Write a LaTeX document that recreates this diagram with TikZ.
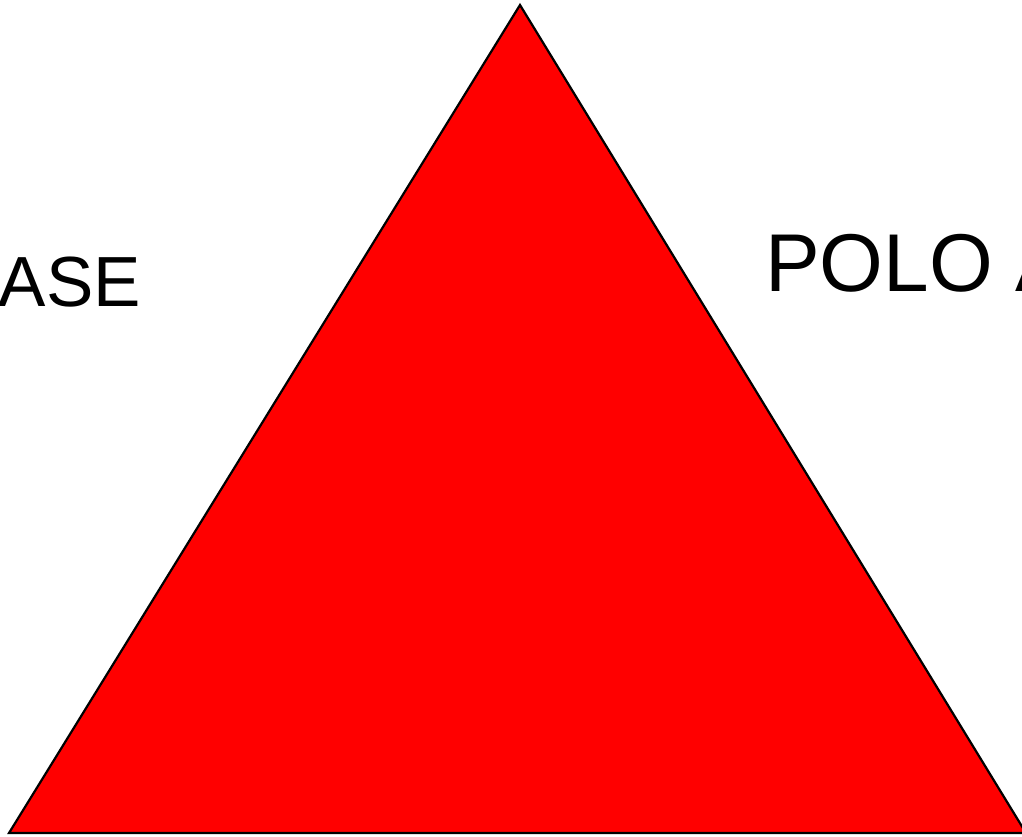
\documentclass[tikz,border=0pt]{standalone}
\usepackage{fontspec}
\setmainfont{Liberation Sans}
\begin{document}
\begin{tikzpicture}[x=1pt,y=-1pt,
  lbl/.style={inner sep=0pt,outer sep=0pt,text=black}]
\useasboundingbox (0,0) rectangle (1022,837);
\clip (0,0) rectangle (1022,837);
\fill[white] (0,0) rectangle (1022,837);
\coordinate (top) at (520,5);
\coordinate (bl) at (9,833);
\coordinate (br) at (1026,833);
\draw[fill=red,draw=black,line width=2.2pt,line join=miter] (top) -- (bl) -- (br) -- cycle;
\node[lbl,anchor=base east,font=\fontsize{71}{71}\selectfont] (ase) at (141,306) {ASE};
\node[lbl,anchor=base west,font=\fontsize{82}{82}\selectfont] (polo) at (765,291) {POLO A};
\end{tikzpicture}
\end{document}
